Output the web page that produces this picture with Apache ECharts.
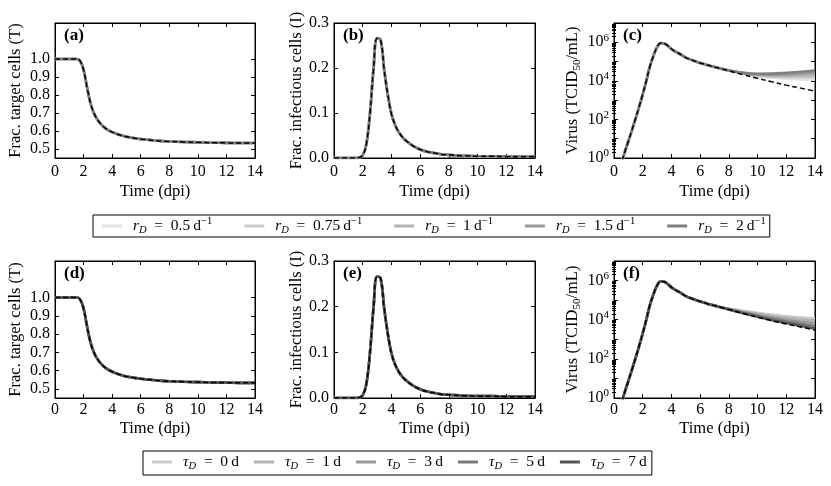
<!DOCTYPE html>
<html>
<head>
<meta charset="utf-8">
<script src="https://cdn.jsdelivr.net/npm/echarts@6/dist/echarts.min.js"></script>
<style>
    html, body { margin: 0; padding: 0; background: #fff; }
    #main { width: 831px; height: 486px; }
</style>
</head>
<body>
<div id="main"></div>
<script>
    // time points (dpi)
    var days = [0, 0.25, 0.5, 0.75, 1, 1.25, 1.5, 1.75, 2, 2.25, 2.5, 2.75, 3, 3.25, 3.5, 3.75, 4, 4.25, 4.5, 4.75, 5,
        5.5, 6, 6.5, 7, 7.5, 8, 9, 10, 11, 12, 13, 14];

    // fraction of target cells (a, d) - all curves overlap
    var targetCells = [1, 1, 1, 1, 1, 1, 1, 0.99, 0.94, 0.84, 0.75, 0.695, 0.66, 0.635, 0.617, 0.604, 0.594, 0.586, 0.579, 0.573, 0.568,
        0.561, 0.555, 0.551, 0.547, 0.544, 0.542, 0.539, 0.537, 0.535, 0.534, 0.533, 0.533];

    // fraction of infectious cells (b, e)
    var infectedCells = [0, 0, 0, 0, 0, 0, 0, 0.001, 0.006, 0.03, 0.097, 0.197, 0.266, 0.262, 0.195, 0.14, 0.098, 0.074, 0.058, 0.047, 0.039,
        0.027, 0.019, 0.014, 0.011, 0.008, 0.007, 0.005, 0.004, 0.004, 0.003, 0.003, 0.003];

    // virus titer up to t = 7.5 (shared by every curve in c, f)
    var virusHead = [1e-3, 1e-2, 0.4, 2.0, 7.4, 28, 110, 450, 2.0e3, 1.0e4, 5.6e4, 2.0e5, 5.6e5, 9.1e5, 8.7e5, 6.6e5, 4.5e5, 3.4e5, 2.7e5, 2.1e5, 1.6e5,
        1.15e5, 8.5e4, 6.6e4, 5.25e4, 4.2e4];
    // tails for t = 8 .. 14
    var virusBaseTail = [3.3e4, 2.1e4, 1.35e4, 8.9e3, 6.0e3, 4.2e3, 2.95e3];

    var rDLabels = ['0.5', '0.75', '1', '1.5', '2'];
    var rDColors = ['#e3e3e3', '#cccccc', '#b3b3b3', '#999999', '#7f7f7f'];
    var rDTails = [
        [3.47e4, 2.40e4, 1.70e4, 1.45e4, 1.29e4, 1.20e4, 1.15e4],
        [3.47e4, 2.45e4, 1.84e4, 1.62e4, 1.55e4, 1.51e4, 1.51e4],
        [3.47e4, 2.51e4, 2.00e4, 1.84e4, 1.80e4, 1.84e4, 1.91e4],
        [3.47e4, 2.57e4, 2.16e4, 2.08e4, 2.18e4, 2.36e4, 2.57e4],
        [3.47e4, 2.63e4, 2.33e4, 2.36e4, 2.60e4, 2.95e4, 3.39e4]
    ];

    var tauLabels = ['0', '1', '3', '5', '7'];
    var tauColors = ['#cccccc', '#b3b3b3', '#999999', '#7a7a7a', '#555555'];
    var tauTails = [
        [3.72e4, 2.82e4, 2.24e4, 1.82e4, 1.51e4, 1.32e4, 1.15e4],
        [3.63e4, 2.63e4, 2.00e4, 1.55e4, 1.26e4, 1.05e4, 8.9e3],
        [3.47e4, 2.40e4, 1.74e4, 1.29e4, 1.00e4, 8.1e3, 6.6e3],
        [3.39e4, 2.24e4, 1.55e4, 1.12e4, 8.1e3, 6.2e3, 4.8e3],
        [3.30e4, 2.14e4, 1.41e4, 9.5e3, 6.8e3, 4.9e3, 3.55e3]
    ];

    // tick labels
    var timeTicks = [0, 2, 4, 6, 8, 10, 12, 14];
    var targetTicks = [0.5, 0.6, 0.7, 0.8, 0.9, 1.0];
    var infectedTicks = [0, 0.1, 0.2, 0.3];
    var virusLabelTicks = [1, 1e2, 1e4, 1e6];
    var virusMajorTicks = [1, 1e1, 1e2, 1e3, 1e4, 1e5, 1e6, 1e7];
    var virusMinorTicks = [];
    for (var k = 0; k < 7; k++) {
        for (var m = 2; m <= 9; m++) {
            virusMinorTicks.push(m * Math.pow(10, k));
        }
    }

    var FONT = 'Liberation Serif';
    var grids = [], xAxes = [], yAxes = [], series = [], titles = [];

    function pairs(vals) {
        return days.map(function (d, i) {
            return [d, vals[i]];
        });
    }

    function tick(len, values) {
        var t = {show: true, inside: true, length: len, lineStyle: {color: '#000', width: 1}};
        if (values) t.customValues = values;
        return t;
    }

    function addPanel(cfg) {
        var gi = grids.length;
        grids.push({left: cfg.box[0], top: cfg.box[1], width: cfg.box[2], height: cfg.box[3],
            show: true, borderColor: '#000', borderWidth: 1, backgroundColor: 'transparent'});

        var xi = xAxes.length;
        ['bottom', 'top'].forEach(function (pos) {
            var main = pos === 'bottom';
            xAxes.push({
                type: 'value', gridIndex: gi, position: pos, min: 0, max: 14,
                axisLine: {show: true, onZero: false, lineStyle: {color: '#000', width: 1}},
                axisTick: tick(4, timeTicks),
                splitLine: {show: false},
                axisLabel: {show: main, customValues: timeTicks, margin: cfg.xMargin, color: '#000', fontFamily: FONT, fontSize: 16},
                name: main ? 'Time (dpi)' : '', nameLocation: 'middle', nameGap: cfg.xNameGap,
                nameTextStyle: {color: '#000', fontFamily: FONT, fontSize: 16.5}
            });
        });

        var yi = yAxes.length;
        var sides = ['left', 'right'];
        sides.forEach(function (pos) {
            var main = pos === 'left';
            var ax = {
                type: cfg.log ? 'log' : 'value', gridIndex: gi, position: pos,
                min: cfg.yMin, max: cfg.yMax,
                axisLine: {show: true, onZero: false, lineStyle: {color: '#000', width: 1}},
                axisTick: tick(4, cfg.log ? virusMajorTicks : cfg.yTicks),
                splitLine: {show: false},
                axisLabel: {show: main, customValues: cfg.yTicks, margin: 5, color: '#000', fontFamily: FONT, fontSize: 16,
                    formatter: cfg.yFormat, rich: cfg.yRich},
                name: main ? cfg.yName : '', nameLocation: 'middle', nameGap: cfg.yNameGap,
                nameTextStyle: {color: '#000', fontFamily: FONT, fontSize: 16.5, rich: {
                    n: {fontFamily: FONT, fontSize: 16.5, lineHeight: 20, color: '#000'},
                    sub: {fontFamily: FONT, fontSize: 11, lineHeight: 10, verticalAlign: 'bottom', color: '#000'}
                }}
            };
            if (cfg.log) ax.logBase = 10;
            yAxes.push(ax);
        });
        if (cfg.log) {
            sides.forEach(function (pos) {
                yAxes.push({
                    type: 'log', logBase: 10, gridIndex: gi, position: pos, min: cfg.yMin, max: cfg.yMax,
                    axisLine: {show: false}, axisTick: tick(2, virusMinorTicks),
                    splitLine: {show: false}, axisLabel: {show: false}
                });
            });
        }

        cfg.lines.forEach(function (ln) {
            series.push({
                name: ln.name, type: 'line', xAxisIndex: xi, yAxisIndex: yi,
                data: pairs(ln.data), smooth: 0.4, showSymbol: false, symbol: 'none', clip: true,
                color: ln.color, itemStyle: {color: ln.color},
                lineStyle: ln.dashed ? {color: '#000', width: 1.5, type: [5, 3]} : {color: ln.color, width: 2.6},
                z: ln.dashed ? 3 : 2
            });
        });

        titles.push({text: cfg.label, left: cfg.box[0] + 9, top: cfg.box[1] + 4, padding: 0,
            textStyle: {fontFamily: FONT, fontWeight: 'bold', fontSize: 17, color: '#000'}});
    }

    function fixed1(v) {
        return v.toFixed(1);
    }

    function powerLabel(v) {
        return '{b|10}{s|' + Math.round(Math.log(v) / Math.LN10) + '}';
    }

    var powerRich = {
        b: {fontFamily: FONT, fontSize: 16, lineHeight: 20, color: '#000'},
        s: {fontFamily: FONT, fontSize: 11, lineHeight: 10, verticalAlign: 'top', color: '#000'}
    };

    function flatLines(names, colors, vals) {
        var out = names.map(function (n, i) {
            return {name: n, data: vals, color: colors[i]};
        });
        out.push({name: 'base', data: vals, color: '#000', dashed: true});
        return out;
    }

    function virusLines(names, colors, tails) {
        var out = names.map(function (n, i) {
            return {name: n, data: virusHead.concat(tails[i]), color: colors[i]};
        });
        out.push({name: 'base', data: virusHead.concat(virusBaseTail), color: '#000', dashed: true});
        return out;
    }

    var rDNames = rDLabels.map(function (v) { return 'rD=' + v; });
    var tauNames = tauLabels.map(function (v) { return 'tauD=' + v; });

    var rows = [
        {top: 23, height: 135, names: rDNames, colors: rDColors, tails: rDTails, labels: ['(a)', '(b)', '(c)'], xMargin: 6, xNameGap: 25},
        {top: 261, height: 137, names: tauNames, colors: tauColors, tails: tauTails, labels: ['(d)', '(e)', '(f)'], xMargin: 4, xNameGap: 22}
    ];

    rows.forEach(function (r) {
        addPanel({
            box: [55, r.top, 200, r.height], label: r.labels[0], yMin: 0.45, yMax: 1.2, yTicks: targetTicks,
            yFormat: fixed1, yName: 'Frac. target cells (T)', yNameGap: 31, xMargin: r.xMargin, xNameGap: r.xNameGap,
            lines: flatLines(r.names, r.colors, targetCells)
        });
        addPanel({
            box: [334, r.top, 201, r.height], label: r.labels[1], yMin: 0, yMax: 0.3, yTicks: infectedTicks,
            yFormat: fixed1, yName: 'Frac. infectious cells (I)', yNameGap: 19, xMargin: r.xMargin, xNameGap: r.xNameGap,
            lines: flatLines(r.names, r.colors, infectedCells)
        });
        addPanel({
            box: [614, r.top, 201, r.height], label: r.labels[2], log: true, yMin: 1, yMax: 1e7, yTicks: virusLabelTicks,
            yFormat: powerLabel, yRich: powerRich, yName: '{n|Virus (TCID}{sub|50}{n|/mL)}', yNameGap: 31,
            xMargin: r.xMargin, xNameGap: r.xNameGap,
            lines: virusLines(r.names, r.colors, r.tails)
        });
    });

    var legendRich = {
        i: {fontFamily: FONT, fontSize: 15.5, fontStyle: 'italic', lineHeight: 20, color: '#000'},
        n: {fontFamily: FONT, fontSize: 15.5, lineHeight: 20, color: '#000'},
        sub: {fontFamily: FONT, fontSize: 10.5, fontStyle: 'italic', lineHeight: 9, verticalAlign: 'bottom', color: '#000'},
        sup: {fontFamily: FONT, fontSize: 10.5, lineHeight: 9, verticalAlign: 'top', color: '#000'}
    };

    function legendText(name) {
        var parts = name.split('=');
        if (parts[0] === 'rD') {
            return '{i|r}{sub|D}{n|\u2002=\u2002' + parts[1] + '\u2009d}{sup|\u22121}';
        }
        return '{i|\u03c4}{sub|D}{n|\u2002=\u2002' + parts[1] + '\u2009d}';
    }

    function legendBox(names, left, top, pad, gap) {
        return {
            data: names, left: left, top: top, orient: 'horizontal', icon: 'rect',
            itemWidth: 20, itemHeight: 3, itemGap: gap, padding: pad,
            borderColor: '#000', borderWidth: 1, backgroundColor: '#fff', borderRadius: 0,
            selectedMode: false, formatter: legendText,
            textStyle: {fontFamily: FONT, fontSize: 15.5, color: '#000', padding: [0, 0, 0, 6], rich: legendRich}
        };
    }

    var myChart = echarts.init(document.getElementById('main'));
    var option = {
        animation: false,
        backgroundColor: '#fff',
        title: titles,
        grid: grids,
        xAxis: xAxes,
        yAxis: yAxes,
        legend: [
            legendBox(rDNames, 93, 215, [1, 4, 1, 9], 32),
            legendBox(tauNames, 143, 451, [3, 5, 3, 9], 15)
        ],
        series: series
    };
    myChart.setOption(option);
</script>
</body>
</html>
